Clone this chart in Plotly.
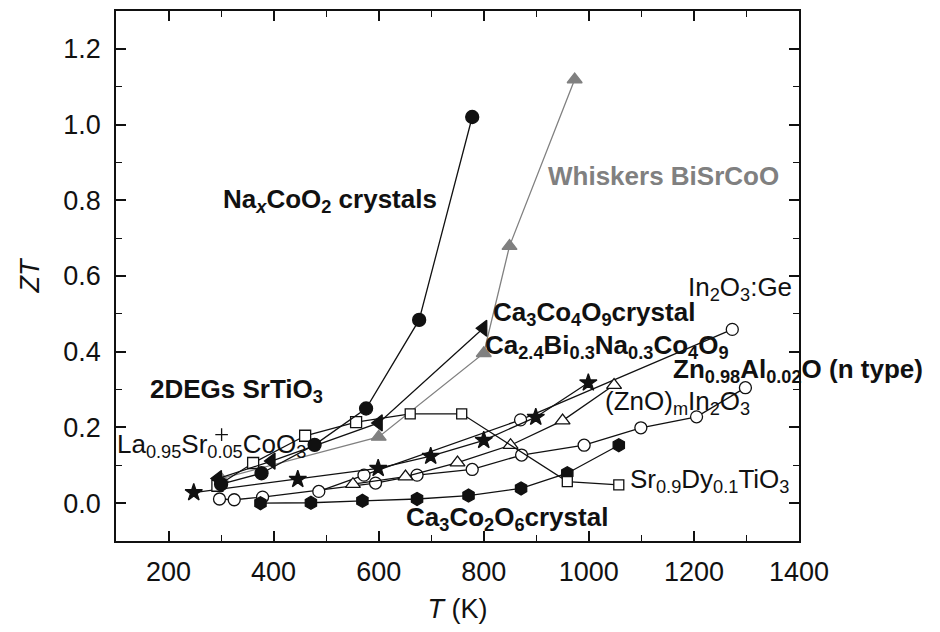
import plotly.graph_objects as go

# ---------------- data ----------------
nacoo2_T = [300, 377, 478, 576, 677, 778]
nacoo2_ZT = [0.050, 0.079, 0.154, 0.250, 0.484, 1.020]

whisk_T = [300, 600, 800, 849, 973]
whisk_ZT = [0.065, 0.175, 0.396, 0.679, 1.119]

ca349_T = [294, 396, 600, 799]
ca349_ZT = [0.065, 0.111, 0.212, 0.462]

lsco_T = [293, 361, 460, 557]
lsco_ZT = [0.046, 0.106, 0.178, 0.214]

srdy_T = [557, 660, 758, 959, 1057]
srdy_ZT = [0.214, 0.236, 0.236, 0.057, 0.048]

deg_T = [299]
deg_ZT = [0.240]

plus_T = [301]
plus_ZT = [0.181]

star_T = [248, 446, 599, 699, 800, 899, 999]
star_ZT = [0.028, 0.063, 0.092, 0.124, 0.166, 0.227, 0.318]

znin_T = [551, 651, 750, 851, 950, 1048]
znin_ZT = [0.050, 0.070, 0.107, 0.153, 0.218, 0.312]

inge_T = [486, 572, 870, 1273]
inge_ZT = [0.031, 0.074, 0.220, 0.459]

znal_T = [297, 325, 379, 594, 673, 778, 872, 991, 1099, 1205, 1298]
znal_ZT = [0.011, 0.009, 0.016, 0.053, 0.074, 0.089, 0.127, 0.153, 0.199, 0.228, 0.305]

ca326_T = [375, 471, 569, 673, 771, 871, 959, 1057]
ca326_ZT = [0.000, 0.001, 0.006, 0.011, 0.020, 0.039, 0.079, 0.153]

x_ticks = [200, 400, 600, 800, 1000, 1200, 1400]
y_ticks = [0.0, 0.2, 0.4, 0.6, 0.8, 1.0, 1.2]

FONT = "Liberation Sans, Arial, sans-serif"
BLACK = "#111111"
GRAY = "#808080"

fig = go.Figure()


def add(x, y, symbol, color, fill, size, lcolor=BLACK, lw=1.3, mode="lines+markers"):
    fig.add_trace(go.Scatter(
        x=x, y=y, mode=mode,
        line=dict(color=lcolor, width=lw),
        marker=dict(symbol=symbol, size=size, color=fill,
                    line=dict(color=color, width=1.3)),
        showlegend=False, hoverinfo="skip", cliponaxis=False))


add(whisk_T, whisk_ZT, "triangle-up", GRAY, GRAY, 13, lcolor=GRAY)
add(znal_T, znal_ZT, "circle", BLACK, "white", 12)
add(inge_T, inge_ZT, "circle", BLACK, "white", 12)
add(znin_T, znin_ZT, "triangle-up", BLACK, "white", 13)
add(star_T, star_ZT, "star", BLACK, BLACK, 13)
add(ca326_T, ca326_ZT, "hexagon", BLACK, BLACK, 13)
add(srdy_T, srdy_ZT, "square", BLACK, "white", 10)
add(lsco_T, lsco_ZT, "square", BLACK, "white", 11)
add(ca349_T, ca349_ZT, "triangle-left", BLACK, BLACK, 14)
add(nacoo2_T, nacoo2_ZT, "circle", BLACK, BLACK, 13)
add(deg_T, deg_ZT, "hexagon-open", BLACK, "white", 12, mode="markers")
add(plus_T, plus_ZT, "cross-thin", BLACK, BLACK, 9, mode="markers")

labels = [
    ("<b>Na<sub><i>x</i></sub>CoO<sub>2</sub> crystals</b>", 302, 0.80, BLACK),
    ("<b>Whiskers BiSrCoO</b>", 920, 0.863, GRAY),
    ("In<sub>2</sub>O<sub>3</sub>:Ge", 1187, 0.566, BLACK),
    ("<b>Ca<sub>3</sub>Co<sub>4</sub>O<sub>9</sub>crystal</b>", 815, 0.50, BLACK),
    ("<b>Ca<sub>2.4</sub>Bi<sub>0.3</sub>Na<sub>0.3</sub>Co<sub>4</sub>O<sub>9</sub></b>", 800, 0.415, BLACK),
    ("<b>Zn<sub>0.98</sub>Al<sub>0.02</sub>O (n type)</b>", 1158, 0.35, BLACK),
    ("(ZnO)<sub>m</sub>In<sub>2</sub>O<sub>3</sub>", 1029, 0.265, BLACK),
    ("<b>2DEGs SrTiO<sub>3</sub></b>", 163, 0.298, BLACK),
    ("La<sub>0.95</sub>Sr<sub>0.05</sub>CoO<sub>3</sub>", 100, 0.152, BLACK),
    ("Sr<sub>0.9</sub>Dy<sub>0.1</sub>TiO<sub>3</sub>", 1076, 0.060, BLACK),
    ("<b>Ca<sub>3</sub>Co<sub>2</sub>O<sub>6</sub>crystal</b>", 651, -0.040, BLACK),
]
for txt, x, y, col in labels:
    fig.add_annotation(text=txt, x=x, y=y, xref="x", yref="y",
                       xanchor="left", yanchor="middle", showarrow=False,
                       borderpad=0,
                       font=dict(family=FONT, size=26, color=col))

axis_common = dict(
    showline=True, linecolor=BLACK, linewidth=1.5, mirror="ticks",
    ticks="inside", ticklen=10, tickwidth=1.5, tickcolor=BLACK,
    showgrid=False, zeroline=False,
    tickfont=dict(family=FONT, size=27, color=BLACK),
)

fig.update_xaxes(range=[100, 1400], tickvals=x_ticks, ticklabelstandoff=6,
                 minor=dict(ticks="inside", ticklen=6, tickwidth=1.3,
                            tickcolor=BLACK, dtick=100, showgrid=False),
                 title=dict(text="<i>T</i> (K)", font=dict(family=FONT, size=27, color=BLACK),
                            standoff=14),
                 **axis_common)
fig.update_yaxes(range=[-0.1, 1.3], tickvals=y_ticks, tickformat=".1f", ticklabelstandoff=8,
                 minor=dict(ticks="inside", ticklen=6, tickwidth=1.3,
                            tickcolor=BLACK, dtick=0.1, tick0=0, showgrid=False),
                 title=dict(text="<i>ZT</i>", font=dict(family=FONT, size=27, color=BLACK),
                            standoff=16),
                 **axis_common)

# page body has an 8px margin, so the figure is offset by 8px
fig.update_layout(
    width=924, height=616,
    margin=dict(l=108, r=133, t=1, b=83),
    plot_bgcolor="white", paper_bgcolor="white",
    font=dict(family=FONT, color=BLACK),
)

fig.write_html("out.html")
